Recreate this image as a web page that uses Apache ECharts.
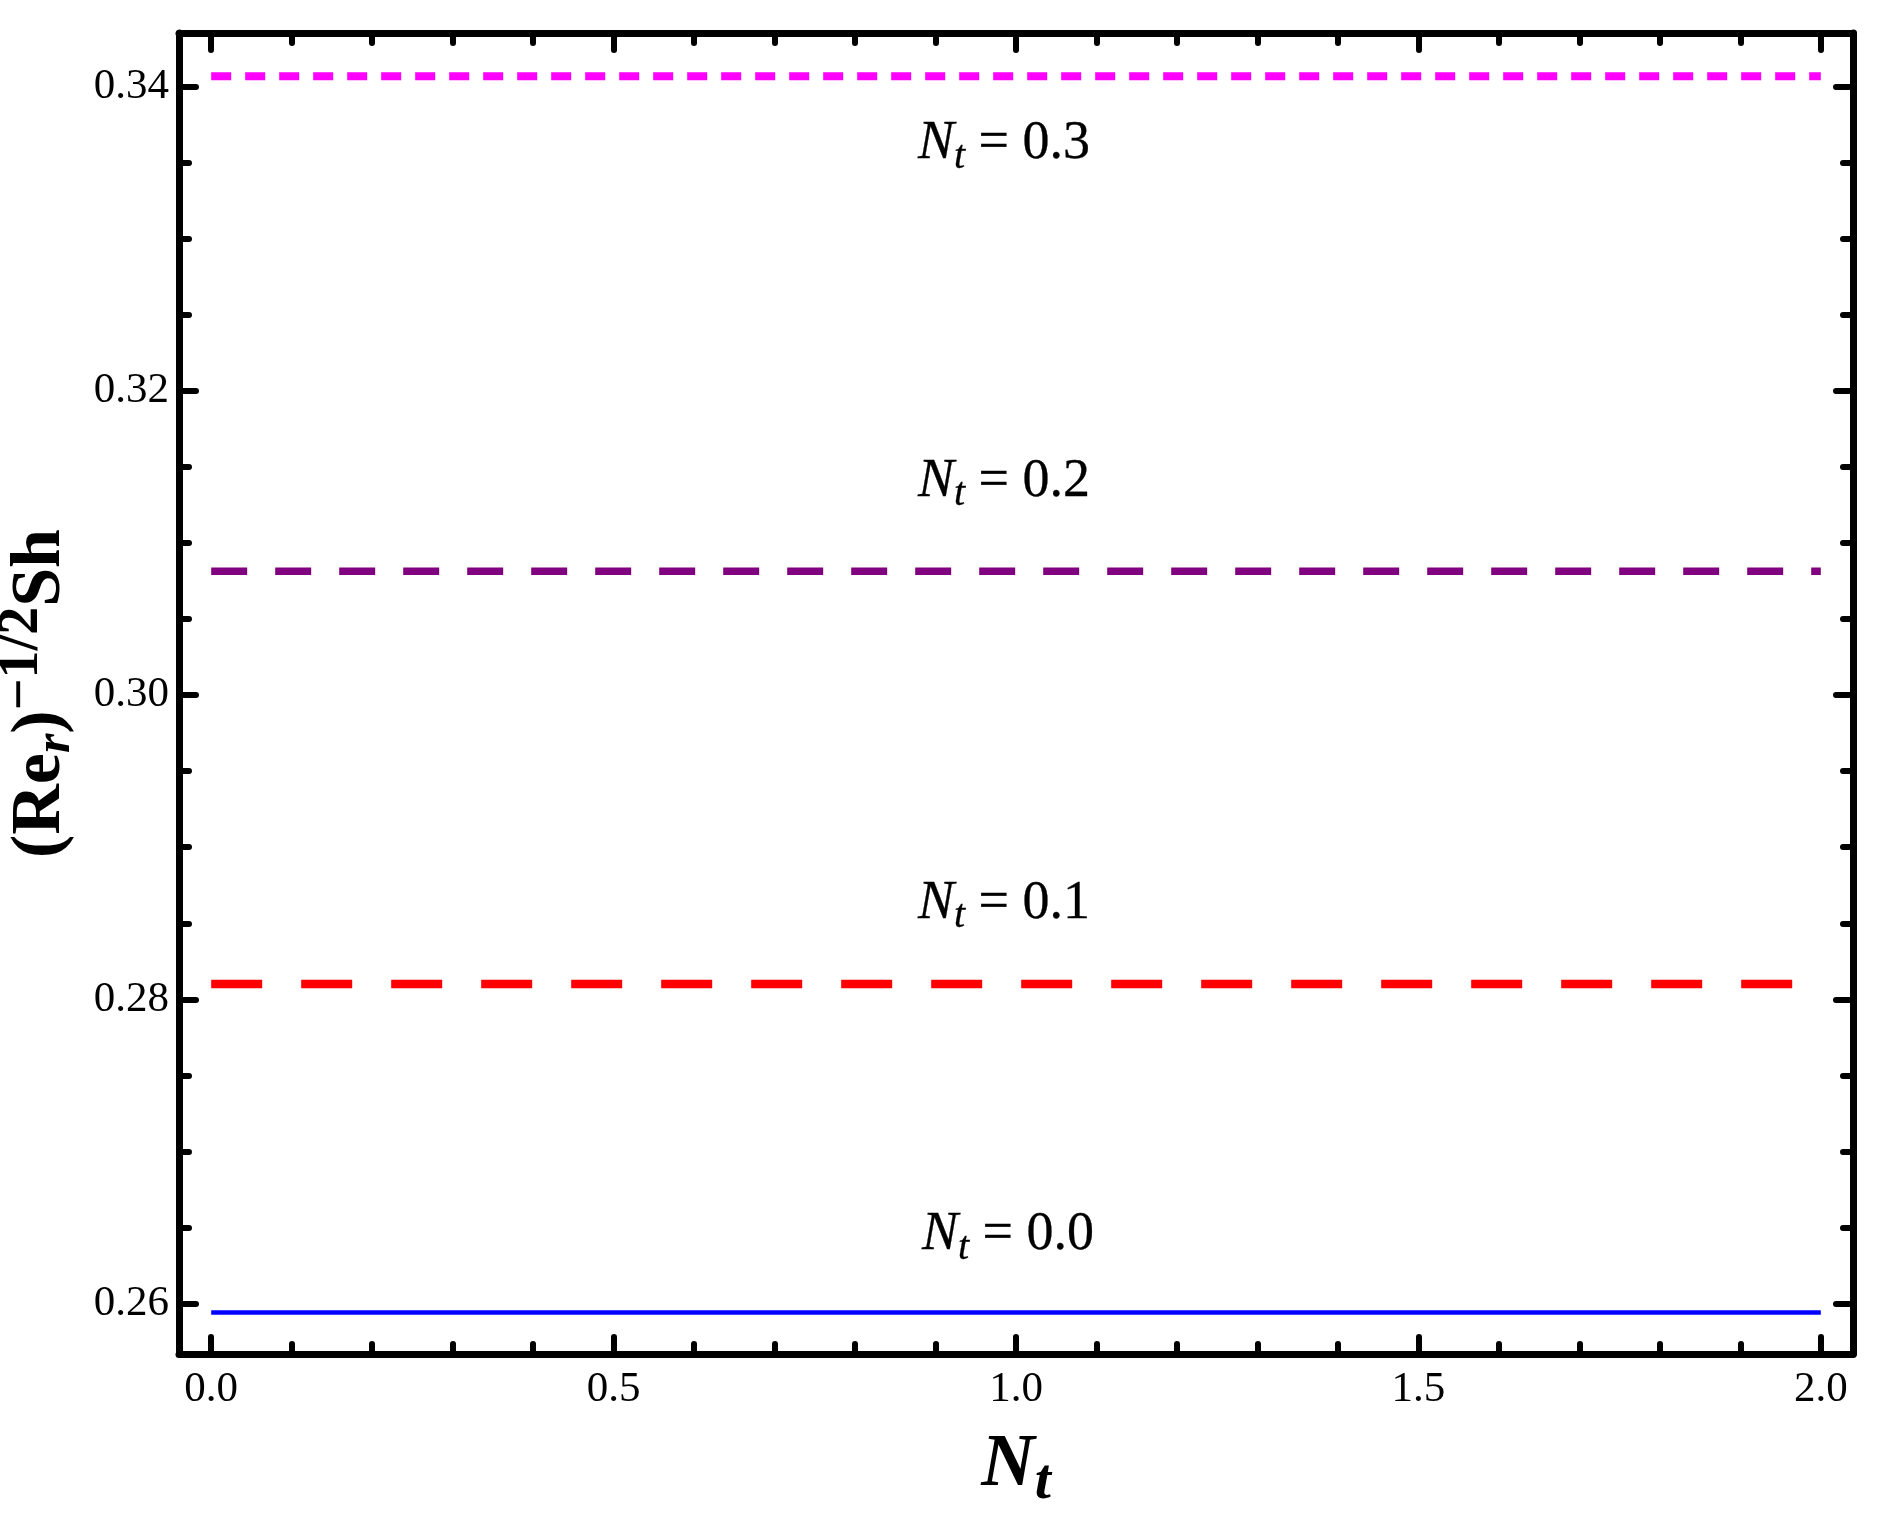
<!DOCTYPE html>
<html>
<head>
<meta charset="utf-8">
<script src="https://cdn.jsdelivr.net/npm/echarts@6/dist/echarts.min.js"></script>
<style>
html,body{margin:0;padding:0;background:#fff;}
#chart{width:1881px;height:1536px;}
</style>
</head>
<body>
<div id="chart"></div>
<script>
// ---- data ----
var xStart = 0.0, xEnd = 2.0;
var ntLabels = ['0.0', '0.1', '0.2', '0.3'];
var shValues = [0.25943, 0.28102, 0.30814, 0.34066];
var lineColors = ['#0000FF', '#FF0000', '#800080', '#FF00FF'];
var annotX = [0.99, 0.985, 0.985, 0.985];
var annotY = [0.2645, 0.2863, 0.3140, 0.3362];
var xMajorTicks = [0.0, 0.5, 1.0, 1.5, 2.0];
var xMinorTicks = [0.1, 0.2, 0.3, 0.4, 0.6, 0.7, 0.8, 0.9, 1.1, 1.2, 1.3, 1.4, 1.6, 1.7, 1.8, 1.9];
var yMajorTicks = [0.26, 0.28, 0.30, 0.32, 0.34];
var yMinorTicks = [0.265, 0.27, 0.275, 0.285, 0.29, 0.295, 0.305, 0.31, 0.315, 0.325, 0.33, 0.335];

// ---- styles ----
var dashTypes = ['solid', [51, 39], [36, 28], [20, 14]];
var lineWidths = [4.5, 8.5, 7.5, 8];
var FONT = 'Liberation Serif';
var X_MIN = -0.04, X_MAX = 2.04, Y_MIN = 0.2567, Y_MAX = 0.3435;

function xAxisDef(pos, ticks, len, showLine, showLabel, extra) {
  var a = {
    type: 'value', position: pos, min: X_MIN, max: X_MAX,
    splitLine: {show: false},
    axisLine: {show: showLine, onZero: false, lineStyle: {color: '#000', width: 7, cap: 'round'}},
    axisTick: {show: true, inside: true, length: len, customValues: ticks,
      lineStyle: {color: '#000', width: 6, cap: 'round'}},
    axisLabel: {show: showLabel}
  };
  if (showLabel) {
    a.axisLabel = {show: true, customValues: ticks, margin: 14,
      formatter: function (v) { return v.toFixed(1); },
      fontFamily: FONT, fontSize: 43, color: '#000'};
  }
  return Object.assign(a, extra || {});
}
function yAxisDef(pos, ticks, len, showLine, showLabel, extra) {
  var a = {
    type: 'value', position: pos, min: Y_MIN, max: Y_MAX,
    splitLine: {show: false},
    axisLine: {show: showLine, onZero: false, lineStyle: {color: '#000', width: 7, cap: 'round'}},
    axisTick: {show: true, inside: true, length: len, customValues: ticks,
      lineStyle: {color: '#000', width: 6, cap: 'round'}},
    axisLabel: {show: showLabel}
  };
  if (showLabel) {
    a.axisLabel = {show: true, customValues: ticks, margin: 10,
      formatter: function (v) { return v.toFixed(2); },
      fontFamily: FONT, fontSize: 43, color: '#000'};
  }
  return Object.assign(a, extra || {});
}

var series = [];
shValues.forEach(function (v, i) {
  series.push({
    type: 'line', xAxisIndex: 0, yAxisIndex: 0,
    data: [[xStart, v], [xEnd, v]],
    symbol: 'none', silent: true,
    lineStyle: {color: lineColors[i], width: lineWidths[i], type: dashTypes[i], cap: 'butt'},
    z: 3
  });
});
var annStyle = {fontFamily: FONT, color: '#000', textBorderColor: '#000', textBorderWidth: 0.3};
series.push({
  type: 'scatter', xAxisIndex: 0, yAxisIndex: 0, symbolSize: 0, silent: true,
  itemStyle: {color: '#000', opacity: 1},
  data: ntLabels.map(function (t, i) { return {value: [annotX[i], annotY[i]], name: t}; }),
  label: {
    show: true, position: [0, 0], align: 'center', verticalAlign: 'middle', opacity: 1,
    color: '#000', textBorderWidth: 0.3, textBorderColor: '#000',
    formatter: function (p) { return '{n|N}{t|t}{r| = ' + p.name + '}'; },
    rich: {
      n: Object.assign({fontStyle: 'italic', fontSize: 54}, annStyle),
      t: Object.assign({fontStyle: 'italic', fontSize: 40, padding: [26, 0, 0, 0]}, annStyle),
      r: Object.assign({fontSize: 54}, annStyle)
    }
  }
});

var option = {
  backgroundColor: '#fff',
  animation: false,
  grid: {left: 179, right: 28, top: 33, bottom: 182, containLabel: false, outerBoundsMode: 'none'},
  xAxis: [
    xAxisDef('bottom', xMajorTicks, 17, true, true, {
      name: '{n|N}{t|t}', nameLocation: 'middle', nameGap: 66,
      nameTextStyle: {rich: {
        n: {fontFamily: FONT, fontStyle: 'italic', fontWeight: 'bold', fontSize: 74, color: '#000'},
        t: {fontFamily: FONT, fontStyle: 'italic', fontWeight: 'bold', fontSize: 58, color: '#000', padding: [34, 0, 0, 0]}
      }}
    }),
    xAxisDef('bottom', xMinorTicks, 10, false, false),
    xAxisDef('top', xMajorTicks, 17, true, false),
    xAxisDef('top', xMinorTicks, 10, false, false)
  ],
  yAxis: [
    yAxisDef('left', yMajorTicks, 17, true, true, {
      name: '{b|(Re}{r|r}{b|)}{s|\u22121/2}{b|Sh}', nameLocation: 'middle', nameGap: 92, nameRotate: 90,
      nameTextStyle: {rich: {
        b: {fontFamily: FONT, fontWeight: 'bold', fontSize: 70, color: '#000'},
        r: {fontFamily: FONT, fontWeight: 'bold', fontStyle: 'italic', fontSize: 50, color: '#000', padding: [30, 0, 0, 0]},
        s: {fontFamily: FONT, fontWeight: 'bold', fontSize: 56, color: '#000', padding: [0, 0, 36, 0]}
      }}
    }),
    yAxisDef('left', yMinorTicks, 10, false, false),
    yAxisDef('right', yMajorTicks, 17, true, false),
    yAxisDef('right', yMinorTicks, 10, false, false)
  ],
  series: series
};

var chart = echarts.init(document.getElementById('chart'), null, {renderer: 'canvas'});
chart.setOption(option);
</script>
</body>
</html>
